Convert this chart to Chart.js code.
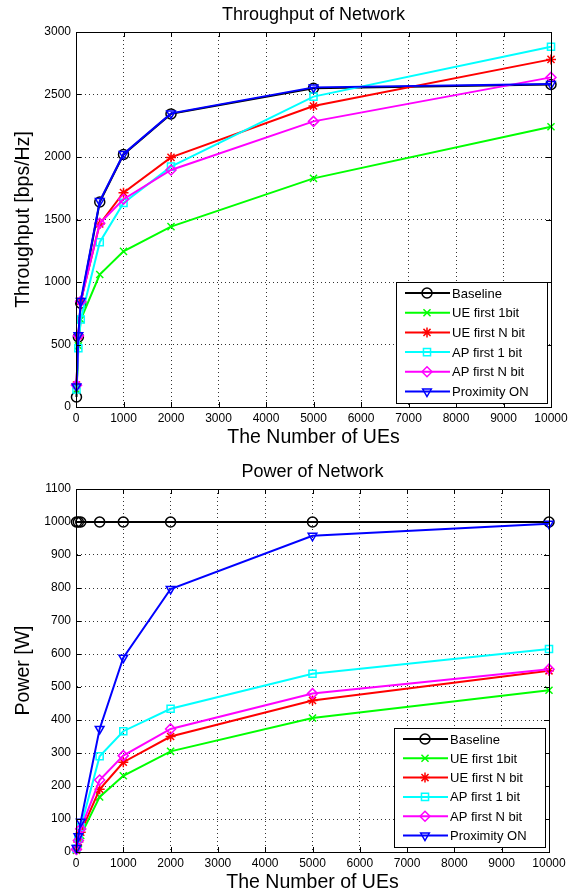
<!DOCTYPE html>
<html>
<head>
<meta charset="utf-8">
<script src="https://cdn.jsdelivr.net/npm/chart.js@4.4.1/dist/chart.umd.min.js"></script>
<style>
  html, body { margin: 0; padding: 0; background: #fff; }
  #wrap { position: relative; width: 578px; height: 895px; }
  #c1 { position: absolute; left: 0; top: 0; }
  #c2 { position: absolute; left: 0; top: 450px; }
</style>
</head>
<body>
<div id="wrap">
  <canvas id="c1" width="578" height="450"></canvas>
  <canvas id="c2" width="578" height="445"></canvas>
</div>
<script>
// ---------- data ----------
const numUEs = [10, 50, 100, 500, 1000, 2000, 5000, 10000];
const seriesNames = ['Baseline', 'UE first 1bit', 'UE first N bit', 'AP first 1 bit', 'AP first N bit', 'Proximity ON'];

// Throughput [bps/Hz]
const thrBaseline = [80, 560, 830, 1640, 2020, 2345, 2550, 2580];
const thrUE1      = [140, 490, 700, 1060, 1245, 1443, 1829, 2242];
const thrUEN      = [175, 570, 845, 1465, 1715, 1997, 2408, 2781];
const thrAP1      = [140, 470, 700, 1318, 1633, 1923, 2483, 2882];
const thrAPN      = [175, 570, 845, 1470, 1662, 1896, 2285, 2637];
const thrProx     = [165, 575, 848, 1648, 2024, 2349, 2557, 2584];

// Power [W]
const pwrBaseline = [1000, 1000, 1000, 1000, 1000, 1000, 1000, 1000];
const pwrUE1      = [5, 25, 50, 167, 231, 305, 406, 490];
const pwrUEN      = [7, 30, 60, 190, 272, 350, 459, 549];
const pwrAP1      = [10, 40, 75, 290, 366, 434, 540, 615];
const pwrAPN      = [8, 35, 70, 218, 292, 373, 480, 554];
const pwrProx     = [12, 48, 92, 373, 589, 797, 958, 995];

const xTickStep = 1000;
const thrTickStep = 500;
const pwrTickStep = 100;

// ---------- styles ----------
const FONT = '"Liberation Sans", Arial, Helvetica, sans-serif';
const colors = ['#000000', '#00ff00', '#ff0000', '#00ffff', '#ff00ff', '#0000ff'];
const markers = [
  { pointStyle: 'circle', rotation: 0 },
  { pointStyle: 'crossRot', rotation: 0 },
  { pointStyle: 'star', rotation: 0 },
  { pointStyle: 'rect', rotation: 0 },
  { pointStyle: 'rectRot', rotation: 0 },
  { pointStyle: 'triangle', rotation: 180 }
];

function drawMarker(ctx, i, x, y, r) {
  ctx.save();
  ctx.strokeStyle = colors[i];
  ctx.fillStyle = 'rgba(0,0,0,0)';
  ctx.lineWidth = 1.5;
  if (Chart.helpers && Chart.helpers.drawPoint) {
    Chart.helpers.drawPoint(ctx, { pointStyle: markers[i].pointStyle, rotation: markers[i].rotation, radius: r, borderWidth: 1.5 }, x, y);
  } else {
    ctx.beginPath(); ctx.arc(x, y, r, 0, Math.PI * 2); ctx.stroke();
  }
  ctx.restore();
}

function makeDatasets(arrays) {
  return arrays.map((arr, i) => ({
    label: seriesNames[i],
    data: numUEs.map((x, k) => ({ x: x, y: arr[k] })),
    borderColor: colors[i],
    backgroundColor: colors[i],
    borderWidth: 2,
    pointStyle: markers[i].pointStyle,
    rotation: markers[i].rotation,
    pointRadius: 5,
    pointHoverRadius: 5,
    pointBorderWidth: 1.5,
    pointBorderColor: colors[i],
    pointBackgroundColor: 'rgba(0,0,0,0)',
    tension: 0,
    clip: false,
    order: arrays.length - i
  }));
}

const framePlugin = {
  id: 'frame',
  afterDraw(chart, args, opts) {
    const ctx = chart.ctx;
    const a = chart.chartArea;
    ctx.save();
    // box
    ctx.strokeStyle = '#000';
    ctx.lineWidth = 1;
    ctx.setLineDash([]);
    ctx.strokeRect(Math.round(a.left) + 0.5, Math.round(a.top) + 0.5, Math.round(a.right - a.left), Math.round(a.bottom - a.top));
    // inward ticks
    const xs = chart.scales.x, ys = chart.scales.y;
    ctx.beginPath();
    xs.ticks.forEach(t => {
      const px = Math.round(xs.getPixelForValue(t.value)) + 0.5;
      ctx.moveTo(px, a.bottom); ctx.lineTo(px, a.bottom - 5);
      ctx.moveTo(px, a.top); ctx.lineTo(px, a.top + 5);
    });
    ys.ticks.forEach(t => {
      const py = Math.round(ys.getPixelForValue(t.value)) + 0.5;
      ctx.moveTo(a.left, py); ctx.lineTo(a.left + 5, py);
      ctx.moveTo(a.right, py); ctx.lineTo(a.right - 5, py);
    });
    ctx.stroke();

    // title
    ctx.fillStyle = '#000';
    ctx.font = '18px ' + FONT;
    ctx.textAlign = 'center';
    ctx.textBaseline = 'middle';
    ctx.fillText(opts.title, (a.left + a.right) / 2, opts.titleY);

    // legend
    const w = 151, rowH = opts.rowH, h = opts.legH;
    const lx = a.right - 4 - w, ly = a.bottom - opts.legBottom - h;
    ctx.fillStyle = '#fff';
    ctx.fillRect(lx, ly, w, h);
    ctx.strokeStyle = '#000';
    ctx.lineWidth = 1;
    ctx.strokeRect(Math.round(lx) + 0.5, Math.round(ly) + 0.5, w, h);
    ctx.font = '13px ' + FONT;
    ctx.textAlign = 'left';
    seriesNames.forEach((name, i) => {
      const yy = ly + 11 + i * rowH;
      ctx.strokeStyle = colors[i];
      ctx.lineWidth = 2;
      ctx.beginPath();
      ctx.moveTo(lx + 9, yy); ctx.lineTo(lx + 54, yy);
      ctx.stroke();
      drawMarker(ctx, i, lx + 31, yy, 5);
      ctx.fillStyle = '#000';
      ctx.fillText(name, lx + 56, yy + 1);
    });
    ctx.restore();
  }
};

function makeOptions(cfg) {
  return {
    responsive: false,
    animation: false,
    events: [],
    layout: { padding: { top: cfg.padTop, right: cfg.padRight, left: 0, bottom: 0 } },
    plugins: {
      legend: { display: false },
      tooltip: { enabled: false },
      title: { display: false },
      frame: { title: cfg.title, titleY: cfg.titleY, rowH: cfg.rowH, legH: cfg.legH, legBottom: cfg.legBottom }
    },
    scales: {
      x: {
        type: 'linear',
        min: 0,
        max: 10000,
        afterFit: s => { s.height = cfg.xHeight; },
        ticks: {
          stepSize: xTickStep,
          autoSkip: false,
          maxRotation: 0,
          padding: 4,
          color: '#000',
          font: { family: FONT, size: 12 },
          callback: v => String(v)
        },
        grid: { color: 'rgba(0,0,0,0.8)', lineWidth: 1, drawTicks: false },
        border: { display: true, color: '#000', width: 1, dash: [1, 3] },
        title: {
          display: true,
          text: 'The Number of UEs',
          color: '#000',
          font: { family: FONT, size: 19.5 },
          padding: { top: 0, bottom: cfg.xTitlePad }
        }
      },
      y: {
        type: 'linear',
        min: 0,
        max: cfg.yMax,
        afterFit: s => { s.width = 76; },
        ticks: {
          stepSize: cfg.yStep,
          autoSkip: false,
          padding: 5,
          color: '#000',
          font: { family: FONT, size: 12 },
          callback: v => String(v)
        },
        grid: { color: 'rgba(0,0,0,0.8)', lineWidth: 1, drawTicks: false },
        border: { display: true, color: '#000', width: 1, dash: [1, 3] },
        title: {
          display: true,
          text: cfg.yTitle,
          color: '#000',
          font: { family: FONT, size: 19.5 },
          padding: { top: 12, bottom: 0 }
        }
      }
    }
  };
}

new Chart(document.getElementById('c1'), {
  type: 'line',
  data: { datasets: makeDatasets([thrBaseline, thrUE1, thrUEN, thrAP1, thrAPN, thrProx]) },
  options: makeOptions({
    padTop: 32, padRight: 27, xHeight: 43, yMax: 3000, yStep: thrTickStep, xTitlePad: 0.5,
    yTitle: 'Throughput [bps/Hz]', title: 'Throughput of Network', titleY: 15,
    rowH: 19.7, legH: 121, legBottom: 4
  }),
  plugins: [framePlugin]
});

new Chart(document.getElementById('c2'), {
  type: 'line',
  data: { datasets: makeDatasets([pwrBaseline, pwrUE1, pwrUEN, pwrAP1, pwrAPN, pwrProx]) },
  options: makeOptions({
    padTop: 39, padRight: 29, xHeight: 43, yMax: 1100, yStep: pwrTickStep, xTitlePad: 1,
    yTitle: 'Power [W]', title: 'Power of Network', titleY: 22,
    rowH: 19.3, legH: 119, legBottom: 5
  }),
  plugins: [framePlugin]
});
</script>
</body>
</html>
